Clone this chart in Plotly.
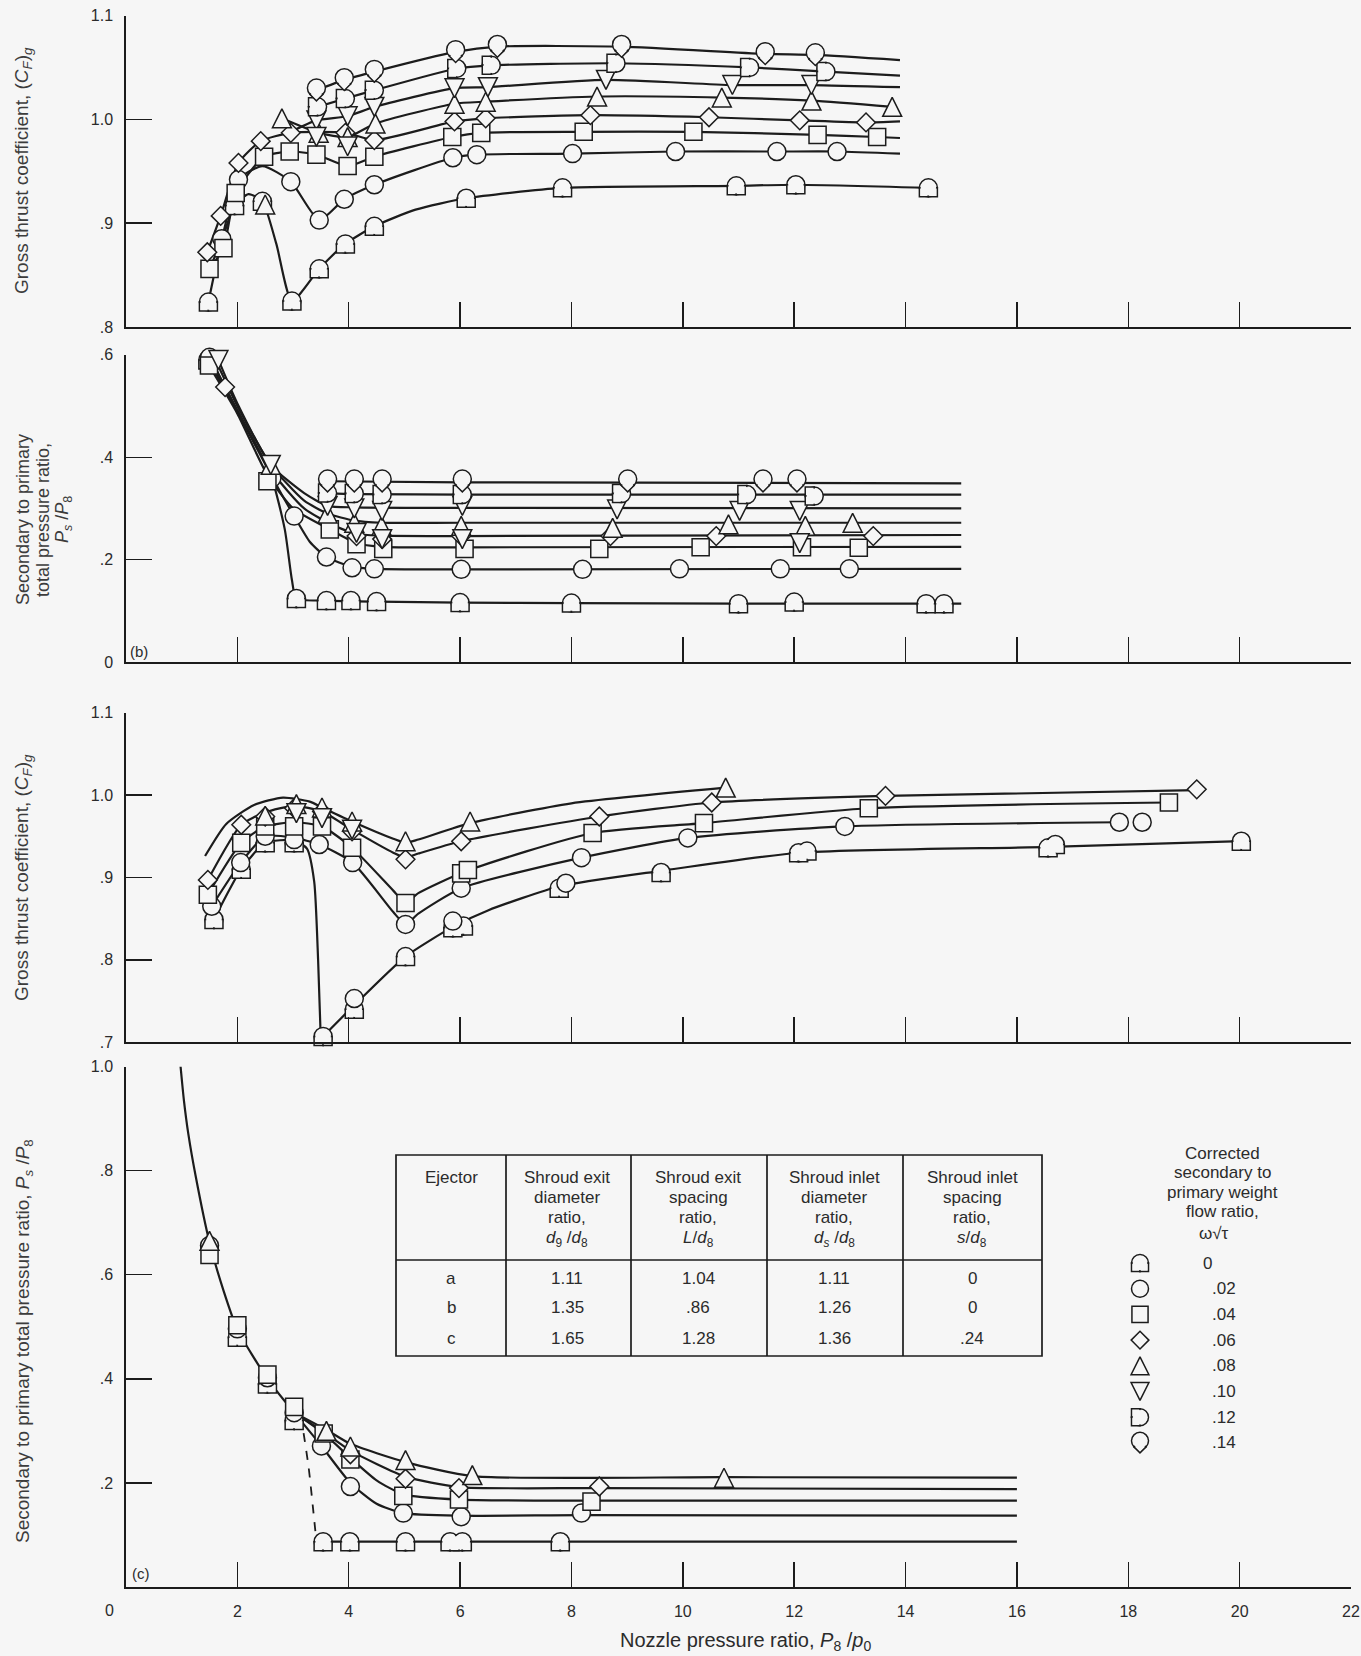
import plotly.graph_objects as go

# ============================ DATA ============================
flow_labels = ['0', '.02', '.04', '.06', '.08', '.10', '.12', '.14']
series_kinds = ['dome', 'circle', 'square', 'diamond', 'tri_up', 'tri_down', 'dee', 'drop']

x_tick_vals = [2, 4, 6, 8, 10, 12, 14, 16, 18, 20, 22]
x_tick_text = ['2', '4', '6', '8', '10', '12', '14', '16', '18', '20', '22']

# ---------- panel (a): gross thrust coefficient ----------
a_dome_mx = [1.48, 1.95, 2.45, 2.98, 3.47, 3.94, 4.46, 6.11, 7.84, 10.96, 12.03, 14.41]
a_dome_my = [0.824, 0.917, 0.921, 0.825, 0.856, 0.880, 0.897, 0.924, 0.934, 0.936, 0.937, 0.934]
a_dome_cx = [1.48, 1.70, 1.95, 2.20, 2.45, 2.70, 2.98, 3.47, 3.94, 4.46, 5.20, 6.11, 7.84, 10.96, 12.03, 14.41]
a_dome_cy = [0.824, 0.878, 0.917, 0.928, 0.921, 0.880, 0.825, 0.856, 0.880, 0.897, 0.913, 0.924, 0.934, 0.936, 0.937, 0.934]

a_circ_mx = [1.72, 2.02, 2.96, 3.47, 3.92, 4.46, 5.87, 6.30, 8.02, 9.87, 11.69, 12.77]
a_circ_my = [0.885, 0.942, 0.940, 0.903, 0.923, 0.937, 0.963, 0.966, 0.967, 0.969, 0.969, 0.969]
a_circ_cx = [1.55, 1.72, 2.02, 2.45, 2.96, 3.47, 3.92, 4.46, 5.87, 6.30, 8.02, 9.87, 11.69, 12.77, 13.90]
a_circ_cy = [0.862, 0.885, 0.942, 0.955, 0.940, 0.903, 0.923, 0.937, 0.963, 0.966, 0.967, 0.969, 0.969, 0.969, 0.967]

a_sq_mx = [1.50, 1.75, 1.97, 2.48, 2.94, 3.42, 3.98, 4.46, 5.86, 6.38, 8.22, 10.19, 12.42, 13.49]
a_sq_my = [0.856, 0.876, 0.929, 0.964, 0.969, 0.966, 0.955, 0.964, 0.983, 0.987, 0.988, 0.988, 0.985, 0.983]
a_sq_cx = [1.50, 1.75, 1.97, 2.48, 2.94, 3.42, 3.98, 4.46, 5.86, 6.38, 8.22, 10.19, 12.42, 13.49, 13.90]
a_sq_cy = [0.856, 0.876, 0.929, 0.964, 0.969, 0.966, 0.955, 0.964, 0.983, 0.987, 0.988, 0.988, 0.985, 0.983, 0.982]

a_dia_mx = [1.46, 1.70, 2.02, 2.42, 2.96, 3.94, 4.46, 5.90, 6.46, 8.34, 10.47, 12.10, 13.29]
a_dia_my = [0.872, 0.907, 0.958, 0.979, 0.987, 0.987, 0.980, 0.998, 1.001, 1.004, 1.002, 0.999, 0.997]
a_dia_cx = [1.46, 1.70, 2.02, 2.42, 2.96, 3.94, 4.46, 5.90, 6.46, 8.34, 10.47, 12.10, 13.29, 13.90]
a_dia_cy = [0.872, 0.907, 0.958, 0.979, 0.987, 0.987, 0.980, 0.998, 1.001, 1.004, 1.002, 0.999, 0.997, 0.998]

a_tri_mx = [2.50, 2.80, 3.46, 3.98, 4.48, 5.90, 6.46, 8.46, 10.70, 12.31, 13.76]
a_tri_my = [0.918, 1.001, 0.987, 0.983, 0.996, 1.015, 1.017, 1.022, 1.021, 1.018, 1.012]
a_tri_cx = [2.80, 3.46, 3.98, 4.48, 5.90, 6.46, 8.46, 10.70, 12.31, 13.76]
a_tri_cy = [1.001, 0.987, 0.983, 0.996, 1.015, 1.017, 1.022, 1.021, 1.018, 1.012]

a_inv_mx = [3.42, 3.42, 3.98, 3.98, 4.46, 5.90, 6.50, 8.62, 10.89, 12.31]
a_inv_my = [0.999, 0.983, 1.003, 0.974, 1.012, 1.030, 1.031, 1.038, 1.033, 1.033]
a_inv_cx = [2.96, 3.42, 3.98, 4.46, 5.90, 6.50, 8.62, 10.89, 12.31, 13.90]
a_inv_cy = [0.988, 0.999, 1.003, 1.012, 1.030, 1.031, 1.038, 1.033, 1.033, 1.031]

a_dee_mx = [3.44, 3.94, 4.46, 5.94, 6.56, 8.80, 11.20, 12.57]
a_dee_my = [1.012, 1.020, 1.028, 1.049, 1.052, 1.054, 1.050, 1.046]
a_dee_cx = [3.44, 3.94, 4.46, 5.94, 6.56, 8.80, 11.20, 12.57, 13.90]
a_dee_cy = [1.012, 1.020, 1.028, 1.049, 1.052, 1.054, 1.050, 1.046, 1.042]

a_drop_mx = [3.42, 3.92, 4.46, 5.92, 6.67, 8.90, 11.48, 12.38]
a_drop_my = [1.028, 1.038, 1.046, 1.065, 1.070, 1.070, 1.063, 1.062]
a_drop_cx = [3.42, 3.92, 4.46, 5.92, 6.67, 8.90, 11.48, 12.38, 13.90]
a_drop_cy = [1.028, 1.038, 1.046, 1.065, 1.070, 1.070, 1.063, 1.062, 1.057]

# ---------- panel (b): secondary to primary total pressure ratio ----------
b_dome_mx = [1.47, 3.06, 3.60, 4.04, 4.50, 6.00, 8.00, 11.00, 12.00, 14.37, 14.69]
b_dome_my = [0.590, 0.124, 0.120, 0.120, 0.118, 0.116, 0.115, 0.114, 0.117, 0.114, 0.114]
b_dome_cx = [1.47, 2.00, 2.60, 2.85, 2.98, 3.06, 3.60, 4.50, 6.00, 8.00, 11.00, 15.00]
b_dome_cy = [0.590, 0.490, 0.365, 0.260, 0.160, 0.124, 0.120, 0.118, 0.116, 0.115, 0.114, 0.114]

b_circ_mx = [1.50, 2.62, 3.02, 3.60, 4.06, 4.46, 6.02, 8.20, 9.94, 11.75, 12.99]
b_circ_my = [0.595, 0.359, 0.285, 0.205, 0.184, 0.182, 0.181, 0.181, 0.182, 0.182, 0.182]
b_circ_cx = [1.50, 2.00, 2.62, 3.02, 3.30, 3.60, 4.06, 4.46, 6.00, 15.00]
b_circ_cy = [0.595, 0.490, 0.362, 0.285, 0.235, 0.205, 0.186, 0.182, 0.181, 0.182]

b_sq_mx = [1.49, 2.54, 3.66, 4.14, 4.62, 6.08, 8.50, 10.32, 12.14, 13.16]
b_sq_my = [0.579, 0.353, 0.259, 0.230, 0.221, 0.221, 0.221, 0.224, 0.224, 0.223]
b_sq_cx = [1.49, 2.00, 2.54, 3.00, 3.66, 4.14, 4.62, 6.08, 15.00]
b_sq_cy = [0.579, 0.485, 0.365, 0.300, 0.259, 0.232, 0.225, 0.224, 0.225]

b_dia_mx = [1.78, 4.14, 4.60, 6.02, 8.70, 10.60, 13.42]
b_dia_my = [0.537, 0.246, 0.240, 0.246, 0.246, 0.246, 0.246]
b_dia_cx = [1.50, 1.78, 2.60, 3.20, 3.70, 4.14, 4.60, 6.02, 15.00]
b_dia_cy = [0.598, 0.537, 0.375, 0.300, 0.268, 0.250, 0.247, 0.246, 0.248]

b_tri_mx = [1.52, 2.60, 3.62, 4.10, 4.59, 6.02, 8.74, 10.82, 12.20, 13.05]
b_tri_my = [0.611, 0.385, 0.290, 0.272, 0.266, 0.266, 0.262, 0.269, 0.266, 0.272]
b_tri_cx = [1.52, 2.00, 2.60, 3.20, 3.62, 4.10, 4.59, 6.02, 15.00]
b_tri_cy = [0.611, 0.500, 0.385, 0.315, 0.290, 0.276, 0.272, 0.272, 0.272]

b_inv_mx = [1.66, 2.60, 3.62, 4.10, 4.60, 6.04, 8.82, 11.02, 12.10, 4.14, 4.60, 6.04, 12.10]
b_inv_my = [0.590, 0.385, 0.305, 0.300, 0.295, 0.305, 0.298, 0.295, 0.295, 0.252, 0.240, 0.240, 0.232]
b_inv_cx = [1.66, 2.00, 2.60, 3.20, 3.62, 4.10, 6.00, 15.00]
b_inv_cy = [0.590, 0.505, 0.385, 0.330, 0.305, 0.302, 0.301, 0.300]

b_dee_mx = [3.62, 4.10, 4.60, 6.04, 8.90, 11.15, 12.36]
b_dee_my = [0.330, 0.329, 0.327, 0.327, 0.329, 0.327, 0.324]
b_dee_cx = [3.62, 4.10, 6.04, 15.00]
b_dee_cy = [0.330, 0.328, 0.327, 0.327]

b_drop_mx = [3.62, 4.10, 4.60, 6.04, 9.01, 11.44, 12.05]
b_drop_my = [0.353, 0.353, 0.353, 0.353, 0.353, 0.353, 0.353]
b_drop_cx = [3.62, 6.04, 15.00]
b_drop_cy = [0.353, 0.351, 0.349]

# ---------- panel (c, upper): gross thrust coefficient ----------
c_dome_mx = [1.58, 2.07, 2.50, 3.02, 3.54, 4.10, 5.02, 5.87, 6.06, 7.78, 9.61, 12.08, 12.23, 16.56, 16.69, 20.03]
c_dome_my = [0.849, 0.910, 0.942, 0.942, 0.707, 0.740, 0.804, 0.839, 0.841, 0.887, 0.906, 0.930, 0.932, 0.936, 0.940, 0.944]
c_dome_ux = [1.58, 2.07, 2.50, 3.02, 3.25, 3.38, 3.45, 3.50]
c_dome_uy = [0.849, 0.910, 0.942, 0.945, 0.935, 0.895, 0.800, 0.700]
c_dome_lx = [3.54, 4.10, 5.02, 5.87, 6.50, 7.78, 9.61, 12.10, 16.60, 20.03]
c_dome_ly = [0.707, 0.745, 0.804, 0.840, 0.860, 0.889, 0.908, 0.930, 0.937, 0.944]

c_circ_mx = [1.54, 2.06, 2.50, 3.02, 3.47, 4.07, 5.02, 6.02, 8.18, 10.09, 12.91, 17.84, 18.25, 4.10, 5.87, 7.90]
c_circ_my = [0.865, 0.918, 0.950, 0.946, 0.940, 0.918, 0.843, 0.887, 0.924, 0.948, 0.962, 0.967, 0.967, 0.753, 0.847, 0.893]
c_circ_cx = [1.54, 2.06, 2.50, 3.02, 3.47, 4.07, 4.80, 5.02, 5.25, 6.02, 8.18, 10.09, 12.91, 17.84]
c_circ_cy = [0.865, 0.918, 0.950, 0.948, 0.940, 0.918, 0.858, 0.843, 0.856, 0.887, 0.924, 0.948, 0.962, 0.967]

c_sq_mx = [1.47, 2.07, 2.50, 3.02, 3.52, 4.06, 5.02, 6.02, 6.14, 8.38, 10.38, 13.34, 18.73]
c_sq_my = [0.879, 0.942, 0.962, 0.962, 0.962, 0.936, 0.869, 0.905, 0.909, 0.954, 0.966, 0.984, 0.991]
c_sq_cx = [1.47, 2.07, 2.50, 3.02, 3.52, 4.06, 4.80, 5.02, 5.25, 6.08, 8.38, 10.38, 13.34, 18.73]
c_sq_cy = [0.879, 0.942, 0.962, 0.967, 0.962, 0.936, 0.884, 0.869, 0.881, 0.907, 0.954, 0.966, 0.984, 0.991]

c_dia_mx = [1.47, 2.07, 2.50, 3.02, 3.52, 4.06, 5.02, 6.02, 8.50, 10.52, 13.64, 19.23]
c_dia_my = [0.897, 0.964, 0.974, 0.984, 0.980, 0.956, 0.922, 0.944, 0.974, 0.991, 0.999, 1.007]
c_dia_cx = [1.47, 2.07, 2.50, 3.02, 3.52, 4.06, 4.80, 5.02, 5.25, 6.02, 8.50, 10.52, 13.64, 19.23]
c_dia_cy = [0.897, 0.964, 0.979, 0.987, 0.980, 0.958, 0.930, 0.924, 0.929, 0.944, 0.974, 0.991, 0.999, 1.006]

c_tri_mx = [2.50, 3.06, 3.52, 4.06, 5.02, 6.18, 10.77]
c_tri_my = [0.975, 0.989, 0.985, 0.968, 0.944, 0.968, 1.009]
c_tri_cx = [1.42, 1.80, 2.30, 2.82, 3.30, 3.52, 4.06, 4.80, 5.02, 5.25, 6.18, 8.00, 10.77]
c_tri_cy = [0.926, 0.965, 0.988, 0.997, 0.992, 0.985, 0.968, 0.947, 0.942, 0.946, 0.966, 0.990, 1.009]

c_inv_mx = [3.06, 3.52, 4.06]
c_inv_my = [0.978, 0.972, 0.958]

# ---------- panel (c): secondary to primary total pressure ratio ----------
d_common_cx = [0.98, 1.04, 1.12, 1.25, 1.50, 1.75, 2.00, 2.54, 3.02]
d_common_cy = [1.000, 0.935, 0.870, 0.790, 0.662, 0.570, 0.495, 0.400, 0.335]

d_dome_mx = [2.00, 2.54, 3.02, 3.54, 4.02, 5.02, 5.82, 6.04, 7.80]
d_dome_my = [0.480, 0.390, 0.320, 0.087, 0.087, 0.087, 0.087, 0.087, 0.087]
d_dome_dx = [3.14, 3.28, 3.36, 3.42]
d_dome_dy = [0.330, 0.230, 0.150, 0.087]
d_dome_cx = [3.42, 16.00]
d_dome_cy = [0.087, 0.087]

d_circ_mx = [1.50, 2.00, 2.54, 3.02, 3.51, 4.03, 4.98, 6.02, 8.18]
d_circ_my = [0.656, 0.496, 0.402, 0.335, 0.271, 0.193, 0.142, 0.135, 0.142]
d_circ_cx = [3.02, 3.51, 4.03, 4.50, 4.98, 6.02, 8.18, 16.00]
d_circ_cy = [0.335, 0.271, 0.200, 0.160, 0.142, 0.137, 0.138, 0.137]

d_sq_mx = [1.50, 2.00, 2.54, 3.02, 3.55, 4.03, 4.98, 5.98, 8.36]
d_sq_my = [0.638, 0.503, 0.408, 0.346, 0.295, 0.245, 0.175, 0.168, 0.164]
d_sq_cx = [3.02, 3.55, 4.03, 4.50, 4.98, 5.98, 8.36, 16.00]
d_sq_cy = [0.335, 0.295, 0.248, 0.205, 0.178, 0.168, 0.166, 0.166]

d_dia_mx = [4.03, 5.02, 5.98, 8.50]
d_dia_my = [0.255, 0.208, 0.190, 0.193]
d_dia_cx = [3.02, 3.55, 4.03, 5.02, 5.98, 8.50, 16.00]
d_dia_cy = [0.335, 0.298, 0.262, 0.212, 0.192, 0.190, 0.188]

d_tri_mx = [1.50, 3.60, 4.03, 5.02, 6.22, 10.74]
d_tri_my = [0.665, 0.300, 0.270, 0.244, 0.215, 0.210]
d_tri_cx = [3.02, 3.60, 4.03, 5.02, 6.22, 10.74, 16.00]
d_tri_cy = [0.335, 0.302, 0.275, 0.240, 0.213, 0.211, 0.210]

# ---------- table ----------
table_head_ejector = 'Ejector'
table_head_cols = [
    ['Shroud exit', 'diameter', 'ratio,', '<i>d</i><sub>9</sub> /<i>d</i><sub>8</sub>'],
    ['Shroud exit', 'spacing', 'ratio,', '<i>L</i>/<i>d</i><sub>8</sub>'],
    ['Shroud inlet', 'diameter', 'ratio,', '<i>d<sub>s</sub></i> /<i>d</i><sub>8</sub>'],
    ['Shroud inlet', 'spacing', 'ratio,', '<i>s</i>/<i>d</i><sub>8</sub>'],
]
ejectors = ['a', 'b', 'c']
exit_diameter_ratio = ['1.11', '1.35', '1.65']
exit_spacing_ratio = ['1.04', '.86', '1.28']
inlet_diameter_ratio = ['1.11', '1.26', '1.36']
inlet_spacing_ratio = ['0', '0', '.24']

legend_title_lines = ['Corrected', 'secondary to', 'primary weight', 'flow ratio,']
legend_param = 'ω√τ'

# ============================ STYLE / LAYOUT ============================
LINE = '#1c1c1c'
BG = '#f6f6f6'
TXT = '#2b2b2b'
TTL = '#3c3c3c'
FONT = 'Liberation Sans, Arial, Helvetica, sans-serif'

W, H = 1361, 1656      # full window (body margin removed by post script)
OX, OY = 0, 0


def pxx(px):
    return (px - OX) / W


def pxy(py):
    return 1.0 - (py - OY) / H


X_LEFT_PX, X_RIGHT_PX = 126.0, 1351.0
X_RANGE = [0, 22]
PPX = (X_RIGHT_PX - X_LEFT_PX) / (X_RANGE[1] - X_RANGE[0])

panel_boxes = [(15.5, 327.0), (354.8, 662.0), (712.7, 1042.2), (1066.5, 1587.0)]
panel_ranges = [[0.8, 1.1], [0.0, 0.6], [0.7, 1.1], [0.0, 1.0]]
panel_tickvals = [[0.8, 0.9, 1.0, 1.1], [0, 0.2, 0.4, 0.6], [0.7, 0.8, 0.9, 1.0, 1.1], [0.2, 0.4, 0.6, 0.8, 1.0]]
panel_ticktext = [['.8', '.9', '1.0', '1.1'], ['0', '.2', '.4', '.6'],
                  ['.7', '.8', '.9', '1.0', '1.1'], ['.2', '.4', '.6', '.8', '1.0']]

# marker recipes: (symbol, size scale, dx, dy), offsets in units of marker size, dy upward
COMPONENTS = {
    'dome': [('circle', 1.0, 0.0, 0.0), ('square', 0.5, -0.25, -0.25), ('square', 0.5, 0.25, -0.25)],
    'circle': [('circle', 1.0, 0.0, 0.0)],
    'square': [('square', 0.95, 0.0, 0.0)],
    'diamond': [('diamond', 0.8, 0.0, 0.0)],
    'tri_up': [('arrow-up', 1.05, 0.0, 0.525)],
    'tri_down': [('arrow-down', 1.05, 0.0, -0.525)],
    'dee': [('circle', 1.0, 0.0, 0.0), ('square', 0.5, -0.25, 0.25), ('square', 0.5, -0.25, -0.25)],
    'drop': [('circle', 1.0, 0.0, 0.12), ('diamond', 0.544, 0.0, -0.234)],
}

fig = go.Figure()


def add_curve(xs, ys, xa, ya, dash='solid', width=2.2):
    fig.add_trace(go.Scatter(x=xs, y=ys, mode='lines', xaxis=xa, yaxis=ya,
                             line=dict(color=LINE, width=width, shape='spline', smoothing=0.6, dash=dash),
                             showlegend=False, hoverinfo='skip'))


def add_marks(xs, ys, kind, xa, ya, ppx, ppy, size):
    comps = COMPONENTS[kind]
    layers = [0] if len(comps) == 1 else [0, 1]
    for layer in layers:
        for sym, sc, dx, dy in comps:
            s = size * sc
            mx = [x + dx * size / ppx for x in xs]
            my = [y + dy * size / ppy for y in ys]
            if layer == 0:
                mk = dict(symbol=sym, size=s, color=BG, line=dict(color=LINE, width=1.5))
            else:
                mk = dict(symbol=sym, size=max(s - 2.6, 1), color=BG, line=dict(color=BG, width=0))
            fig.add_trace(go.Scatter(x=mx, y=my, mode='markers', marker=mk, xaxis=xa, yaxis=ya,
                                     cliponaxis=False, showlegend=False, hoverinfo='skip'))


panels = [
    dict(curves=[(a_dome_cx, a_dome_cy, 'solid'), (a_circ_cx, a_circ_cy, 'solid'), (a_sq_cx, a_sq_cy, 'solid'),
                 (a_dia_cx, a_dia_cy, 'solid'), (a_tri_cx, a_tri_cy, 'solid'), (a_inv_cx, a_inv_cy, 'solid'),
                 (a_dee_cx, a_dee_cy, 'solid'), (a_drop_cx, a_drop_cy, 'solid')],
         marks=[('dome', a_dome_mx, a_dome_my), ('circle', a_circ_mx, a_circ_my), ('square', a_sq_mx, a_sq_my),
                ('diamond', a_dia_mx, a_dia_my), ('tri_up', a_tri_mx, a_tri_my), ('tri_down', a_inv_mx, a_inv_my),
                ('dee', a_dee_mx, a_dee_my), ('drop', a_drop_mx, a_drop_my)]),
    dict(curves=[(b_dome_cx, b_dome_cy, 'solid'), (b_circ_cx, b_circ_cy, 'solid'), (b_sq_cx, b_sq_cy, 'solid'),
                 (b_dia_cx, b_dia_cy, 'solid'), (b_tri_cx, b_tri_cy, 'solid'), (b_inv_cx, b_inv_cy, 'solid'),
                 (b_dee_cx, b_dee_cy, 'solid'), (b_drop_cx, b_drop_cy, 'solid')],
         marks=[('dome', b_dome_mx, b_dome_my), ('circle', b_circ_mx, b_circ_my), ('square', b_sq_mx, b_sq_my),
                ('diamond', b_dia_mx, b_dia_my), ('tri_up', b_tri_mx, b_tri_my), ('tri_down', b_inv_mx, b_inv_my),
                ('dee', b_dee_mx, b_dee_my), ('drop', b_drop_mx, b_drop_my)]),
    dict(curves=[(c_dome_ux, c_dome_uy, 'solid'), (c_dome_lx, c_dome_ly, 'solid'), (c_circ_cx, c_circ_cy, 'solid'),
                 (c_sq_cx, c_sq_cy, 'solid'), (c_dia_cx, c_dia_cy, 'solid'), (c_tri_cx, c_tri_cy, 'solid')],
         marks=[('dome', c_dome_mx, c_dome_my), ('circle', c_circ_mx, c_circ_my), ('square', c_sq_mx, c_sq_my),
                ('diamond', c_dia_mx, c_dia_my), ('tri_up', c_tri_mx, c_tri_my), ('tri_down', c_inv_mx, c_inv_my)]),
    dict(curves=[(d_common_cx, d_common_cy, 'solid'), (d_dome_dx, d_dome_dy, 'dash'), (d_dome_cx, d_dome_cy, 'solid'),
                 (d_circ_cx, d_circ_cy, 'solid'), (d_sq_cx, d_sq_cy, 'solid'), (d_dia_cx, d_dia_cy, 'solid'),
                 (d_tri_cx, d_tri_cy, 'solid')],
         marks=[('dome', d_dome_mx, d_dome_my), ('circle', d_circ_mx, d_circ_my), ('square', d_sq_mx, d_sq_my),
                ('diamond', d_dia_mx, d_dia_my), ('tri_up', d_tri_mx, d_tri_my)]),
]

layout = dict(width=W, height=H, margin=dict(l=0, r=0, t=0, b=0, pad=0, autoexpand=False), autosize=False,
              paper_bgcolor=BG, plot_bgcolor=BG, showlegend=False,
              font=dict(family=FONT, size=16, color=TXT))

MS = 18
for i, p in enumerate(panels):
    top, bot = panel_boxes[i]
    sfx = '' if i == 0 else str(i + 1)
    xa, ya = 'x' + sfx, 'y' + sfx
    ppy = (bot - top) / (panel_ranges[i][1] - panel_ranges[i][0])
    layout['xaxis' + sfx] = dict(
        domain=[pxx(X_LEFT_PX), pxx(X_RIGHT_PX)], range=X_RANGE, anchor=ya, automargin=False,
        showline=True, linecolor=LINE, linewidth=1.7, ticks='inside', ticklen=25, tickwidth=1.4,
        tickcolor=LINE, tickvals=x_tick_vals, ticktext=x_tick_text, showticklabels=(i == 3),
        ticklabelstandoff=9, ticklabeloverflow='allow', tickfont=dict(size=16, color=TXT),
        showgrid=False, zeroline=False, fixedrange=True)
    layout['yaxis' + sfx] = dict(
        domain=[pxy(bot), pxy(top)], range=panel_ranges[i], anchor=xa, automargin=False,
        showline=True, linecolor=LINE, linewidth=1.7, ticks='inside', ticklen=26, tickwidth=1.4,
        tickcolor=LINE, tickvals=panel_tickvals[i], ticktext=panel_ticktext[i],
        ticklabelstandoff=8, ticklabeloverflow='allow', tickfont=dict(size=16, color=TXT),
        showgrid=False, zeroline=False, fixedrange=True)
    for cx, cy, dash in p['curves']:
        add_curve(cx, cy, xa, ya, dash=dash, width=1.8 if dash == 'dash' else 2.2)
    for kind, mx, my in p['marks']:
        add_marks(mx, my, kind, xa, ya, PPX, ppy, MS)

# ---------- legend (pixel-unit axes) ----------
LEG_L, LEG_R, LEG_T, LEG_B = 1100, 1330, 1235, 1470
layout['xaxis5'] = dict(domain=[pxx(LEG_L), pxx(LEG_R)], range=[LEG_L, LEG_R], anchor='y5', visible=False,
                        fixedrange=True, automargin=False)
layout['yaxis5'] = dict(domain=[pxy(LEG_B), pxy(LEG_T)], range=[LEG_B, LEG_T], anchor='x5', visible=False,
                        fixedrange=True, automargin=False)
leg_row_y = [1263 + 25.7 * k for k in range(len(flow_labels))]
for k, kind in enumerate(series_kinds):
    add_marks([1140], [leg_row_y[k]], kind, 'x5', 'y5', 1.0, -1.0, 17)

ann = []
for k, lab in enumerate(flow_labels):
    ann.append(dict(x=pxx(1201 if k == 0 else 1210), y=pxy(leg_row_y[k]), xref='paper', yref='paper',
                    text=lab, showarrow=False, xanchor='left', yanchor='middle', font=dict(size=17, color=TXT)))
for k, line in enumerate(legend_title_lines):
    ann.append(dict(x=pxx(1222), y=pxy(1153 + 19.5 * k), xref='paper', yref='paper', text=line,
                    showarrow=False, xanchor='center', yanchor='middle', font=dict(size=17, color=TXT)))
ann.append(dict(x=pxx(1214), y=pxy(1233), xref='paper', yref='paper', text=legend_param,
                showarrow=False, xanchor='center', yanchor='middle', font=dict(size=17, color=TXT)))

# ---------- axis titles & labels ----------
ytitle_thrust = 'Gross thrust coefficient, (<i>C<sub>F</sub></i>)<sub><i>g</i></sub>'
ytitle_press1 = 'Secondary to primary total pressure ratio, <i>P<sub>s</sub></i> /<i>P</i><sub>8</sub>'
ytitle_press3 = ['Secondary to primary', 'total pressure ratio,', '<i>P<sub>s</sub></i> /<i>P</i><sub>8</sub>']
xtitle = 'Nozzle pressure ratio, <i>P</i><sub>8</sub> /<i>p</i><sub>0</sub>'
for (xp, yp, txt) in [(23, 171, ytitle_thrust), (23, 878, ytitle_thrust), (24, 1341, ytitle_press1)]:
    ann.append(dict(x=pxx(xp), y=pxy(yp), xref='paper', yref='paper', text=txt, textangle=-90,
                    showarrow=False, xanchor='center', yanchor='middle', font=dict(size=19, color=TTL)))
for k, txt in enumerate(ytitle_press3):
    ann.append(dict(x=pxx(23 + 20 * k), y=pxy(520), xref='paper', yref='paper', text=txt, textangle=-90,
                    showarrow=False, xanchor='center', yanchor='middle', font=dict(size=18, color=TTL)))
ann.append(dict(x=pxx(618), y=pxy(1641), xref='paper', yref='paper', text=xtitle, showarrow=False,
                xanchor='left', yanchor='middle', font=dict(size=20, color=TXT)))
ann.append(dict(x=pxx(109), y=pxy(1610), xref='paper', yref='paper', text='0', showarrow=False,
                xanchor='center', yanchor='middle', font=dict(size=16, color=TXT)))
ann.append(dict(x=pxx(139), y=pxy(651), xref='paper', yref='paper', text='(b)', showarrow=False,
                xanchor='center', yanchor='middle', font=dict(size=15, color=TXT)))
ann.append(dict(x=pxx(141), y=pxy(1573), xref='paper', yref='paper', text='(c)', showarrow=False,
                xanchor='center', yanchor='middle', font=dict(size=15, color=TXT)))

# ---------- table ----------
T_L, T_R, T_T, T_HB, T_B = 396, 1042, 1155, 1260, 1356
col_edges = [506, 631, 767, 903]
col_centers = [451, 567, 698, 834, 972]
head_line_y = [1177, 1197, 1217, 1239]
row_y = [1278, 1307, 1338]
shapes = [dict(type='rect', xref='paper', yref='paper', x0=pxx(T_L), x1=pxx(T_R), y0=pxy(T_B), y1=pxy(T_T),
               line=dict(color=LINE, width=1.7)),
          dict(type='line', xref='paper', yref='paper', x0=pxx(T_L), x1=pxx(T_R), y0=pxy(T_HB), y1=pxy(T_HB),
               line=dict(color=LINE, width=1.7))]
for ce in col_edges:
    shapes.append(dict(type='line', xref='paper', yref='paper', x0=pxx(ce), x1=pxx(ce), y0=pxy(T_B), y1=pxy(T_T),
                       line=dict(color=LINE, width=1.7)))
ann.append(dict(x=pxx(col_centers[0]), y=pxy(head_line_y[0]), xref='paper', yref='paper', text=table_head_ejector,
                showarrow=False, xanchor='center', yanchor='middle', font=dict(size=17, color=TXT)))
for c, lines in enumerate(table_head_cols):
    for j, t in enumerate(lines):
        ann.append(dict(x=pxx(col_centers[c + 1]), y=pxy(head_line_y[j]), xref='paper', yref='paper', text=t,
                        showarrow=False, xanchor='center', yanchor='middle', font=dict(size=17, color=TXT)))
body_cols = [ejectors, exit_diameter_ratio, exit_spacing_ratio, inlet_diameter_ratio, inlet_spacing_ratio]
for c, col in enumerate(body_cols):
    for r, t in enumerate(col):
        ann.append(dict(x=pxx(col_centers[c]), y=pxy(row_y[r]), xref='paper', yref='paper', text=t,
                        showarrow=False, xanchor='center', yanchor='middle', font=dict(size=17, color=TXT)))

layout['annotations'] = ann
layout['shapes'] = shapes
fig.update_layout(**layout)
fig.write_html("out.html",
               config={'displayModeBar': False, 'staticPlot': True},
               post_script="document.body.style.margin='0px';document.body.style.padding='0px';"
                           "document.body.style.overflow='hidden';")
